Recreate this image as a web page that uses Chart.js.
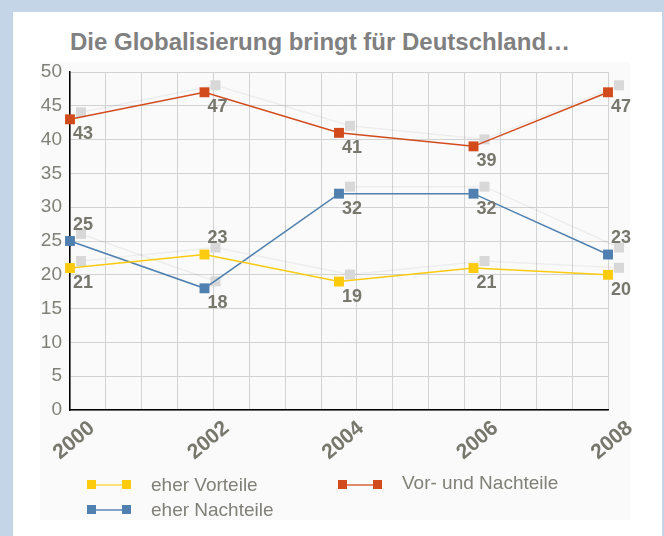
<!DOCTYPE html>
<html>
<head>
<meta charset="utf-8">
<script src="https://cdn.jsdelivr.net/npm/chart.js@4"></script>
<style>
    body { margin: 0; background: #c5d5e8; width: 664px; height: 536px; overflow: hidden; font-family: "Liberation Sans", Arial, sans-serif; }
    #panel { position: absolute; left: 13px; top: 12px; width: 649px; height: 530px; background: #fff; }
    #bgbox { position: absolute; left: 40px; top: 62px; width: 590px; height: 458px; background: #fafafa; }
    #title { position: absolute; left: 70px; top: 28px; font-size: 24px; font-weight: bold; color: #808080; white-space: nowrap; }
    #chartBox { position: absolute; left: 0; top: 0; width: 664px; height: 470px; }
    #legend { position: absolute; left: 40px; top: 460px; width: 590px; height: 60px; }
    .item { position: absolute; height: 20px; font-size: 19px; color: #808078; }
    .item .line { position: absolute; left: 0; top: 8px; width: 44px; height: 2px; }
    .item .sq { position: absolute; top: 4px; width: 9px; height: 9px; }
    .item span { position: absolute; left: 64px; top: -2px; white-space: nowrap; }
</style>
</head>
<body>
<div id="panel"></div>
<div id="bgbox"></div>
<div id="title">Die Globalisierung bringt für Deutschland…</div>
<div id="chartBox"><canvas id="chart"></canvas></div>
<div id="legend"></div>

<script>
// Data
const years = [2000, 2002, 2004, 2006, 2008];
const eherVorteile = [21, 23, 19, 21, 20];
const vorUndNachteile = [43, 47, 41, 39, 47];
const eherNachteile = [25, 18, 32, 32, 23];
const seriesNames = ['eher Vorteile', 'Vor- und Nachteile', 'eher Nachteile'];
const yTicks = [0, 5, 10, 15, 20, 25, 30, 35, 40, 45, 50];

// which value labels sit above the point (others below)
const labelAbove = [
    [false, true, false, false, false],
    [false, false, false, false, false],
    [true, false, false, false, true]
];

const colors = ['#fccb0e', '#d14b1d', '#4f80b0'];
const legendLineColors = ['#fde27a', '#e08a6a', '#7fa3c8'];
const verticalGridCount = 15;

function toPoints(values) {
    return values.map((v, i) => ({ x: years[i], y: v }));
}

// faint shadow lines and grey squares behind the markers, then value labels
const shadowPlugin = {
    id: 'shadows',
    beforeDatasetsDraw(chart) {
        const ctx = chart.ctx;
        ctx.save();
        chart.data.datasets.forEach((ds, i) => {
            const pts = chart.getDatasetMeta(i).data;
            ctx.strokeStyle = 'rgba(0,0,0,0.05)';
            ctx.lineWidth = 1.5;
            ctx.beginPath();
            pts.forEach((p, j) => {
                if (j === 0) ctx.moveTo(p.x + 11, p.y - 7);
                else ctx.lineTo(p.x + 11, p.y - 7);
            });
            ctx.stroke();
            ctx.fillStyle = '#d8d8d8';
            pts.forEach(p => ctx.fillRect(p.x + 11 - 5, p.y - 7 - 5, 10, 10));
        });
        ctx.restore();
    },
    afterDatasetsDraw(chart) {
        const ctx = chart.ctx;
        ctx.save();
        ctx.font = 'bold 18px "Liberation Sans", Arial, sans-serif';
        ctx.fillStyle = '#77776e';
        ctx.textAlign = 'center';
        ctx.textBaseline = 'middle';
        chart.data.datasets.forEach((ds, i) => {
            const pts = chart.getDatasetMeta(i).data;
            pts.forEach((p, j) => {
                const dy = labelAbove[i][j] ? -16 : 15;
                ctx.fillText(ds.data[j].y, p.x + 13, p.y + dy);
            });
        });
        ctx.restore();
    }
};

const allSeries = [eherVorteile, vorUndNachteile, eherNachteile];

new Chart(document.getElementById('chart'), {
    type: 'line',
    data: {
        datasets: allSeries.map((values, i) => ({
            label: seriesNames[i],
            data: toPoints(values),
            borderColor: colors[i],
            backgroundColor: colors[i],
            borderWidth: 1.5,
            pointStyle: 'rect',
            pointRadius: 7,
            pointBorderWidth: 0,
            tension: 0,
            clip: false
        }))
    },
    options: {
        responsive: true,
        maintainAspectRatio: false,
        animation: false,
        events: [],
        layout: { padding: { top: 72, right: 56, left: 0, bottom: 0 } },
        plugins: {
            legend: { display: false },
            tooltip: { enabled: false }
        },
        scales: {
            x: {
                type: 'linear',
                min: years[0],
                max: years[years.length - 1],
                afterBuildTicks: scale => {
                    const step = (scale.max - scale.min) / verticalGridCount;
                    scale.ticks = [];
                    for (let k = 0; k <= verticalGridCount; k++) scale.ticks.push({ value: scale.min + k * step });
                },
                afterFit: scale => { scale.height = 0; },
                grid: { color: '#d2d2d2', lineWidth: 1, drawTicks: false },
                border: { color: '#000', width: 1.5 },
                ticks: { display: false }
            },
            xLabels: {
                type: 'linear',
                position: 'bottom',
                min: years[0],
                max: years[years.length - 1],
                afterBuildTicks: scale => { scale.ticks = years.map(v => ({ value: v })); },
                afterFit: scale => { scale.height = 60; },
                grid: { display: false },
                border: { display: false },
                ticks: {
                    autoSkip: false,
                    minRotation: 40,
                    maxRotation: 40,
                    labelOffset: 22,
                    padding: -2,
                    color: '#77776e',
                    font: { family: '"Liberation Sans", Arial, sans-serif', size: 21, weight: 'bold' },
                    callback: v => String(v)
                }
            },
            y: {
                min: 0,
                max: 50,
                afterBuildTicks: scale => { scale.ticks = yTicks.map(v => ({ value: v })); },
                afterFit: scale => { scale.width = 70; },
                grid: { color: '#d2d2d2', lineWidth: 1, drawTicks: false },
                border: { color: '#000', width: 1.5 },
                ticks: {
                    padding: 8,
                    color: '#808078',
                    font: { family: '"Liberation Sans", Arial, sans-serif', size: 19 }
                }
            }
        }
    },
    plugins: [shadowPlugin]
});

// Legend
const legendPos = [[47, 26], [298, 26], [47, 51]];
const legend = document.getElementById('legend');
seriesNames.forEach((name, i) => {
    const item = document.createElement('div');
    item.className = 'item';
    item.style.left = legendPos[i][0] + 'px';
    item.style.top = (legendPos[i][1] - 10) + 'px';
    item.innerHTML =
        '<div class="line" style="background:' + legendLineColors[i] + '"></div>' +
        '<div class="sq" style="left:0;background:' + colors[i] + '"></div>' +
        '<div class="sq" style="left:35px;background:' + colors[i] + '"></div>' +
        '<span' + (i === 1 ? ' style="top:-4px"' : '') + '>' + name + '</span>';
    legend.appendChild(item);
});
</script>
</body>
</html>
